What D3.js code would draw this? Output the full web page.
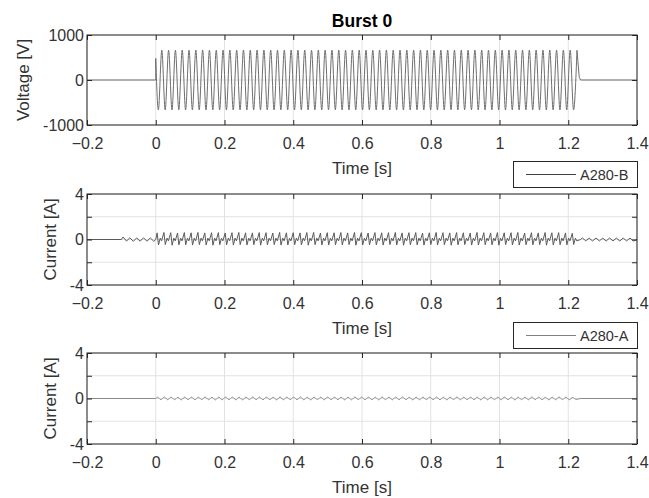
<!DOCTYPE html>
<html>
<head>
<meta charset="utf-8">
<script src="https://cdn.jsdelivr.net/npm/d3@7"></script>
<style>
  html, body { margin: 0; padding: 0; background: #fff; }
  svg { display: block; font-family: "Liberation Sans", Arial, sans-serif; }
</style>
</head>
<body>
<svg id="chart" width="649" height="498"></svg>
<script>
// ---------------- data ----------------
const xTicks = [-0.2, 0, 0.2, 0.4, 0.6, 0.8, 1, 1.2, 1.4];
const xDomain = [-0.2, 1.4];
const voltTicks = [-1000, 0, 1000];
const voltTickLabels = ["-1000", "0", "1000"];
const currTicks = [-4, -2, 0, 2, 4];
const currTickLabels = ["-4", "", "0", "", "4"];
const titleText = "Burst 0";
const seriesNames = ["A280-B", "A280-A"];

// burst timing (s)
const burstStart = 0;
const burstEnd = 1.236;
const cyclePeriod = 0.0198;
const voltOnset = 480;          // value right after switching on at t = 0
const voltFirstTrough = 0.0076;  // time of first trough
const voltFirstPeak = 0.0176;    // time of first peak
const voltOffLevel = 60;         // small step left when switching off

// voltage extremes per cycle (V)
const voltPeaks = [
  662,665,664,666,663,665,667,664,662,665,
  666,664,665,663,666,665,664,662,665,667,
  664,665,663,666,665,664,665,662,666,665,
  664,663,665,667,664,665,666,663,665,664,
  662,665,666,664,665,663,667,665,664,662,
  665,666,664,665,663,665,664,666,662,665,
  664,660];
const voltTroughs = [
  -664,-666,-665,-663,-667,-665,-664,-666,-665,-663,
  -665,-667,-664,-666,-665,-663,-665,-666,-664,-665,
  -667,-663,-665,-664,-666,-665,-663,-667,-665,-664,
  -666,-665,-663,-665,-667,-664,-665,-666,-663,-665,
  -664,-666,-665,-663,-667,-665,-664,-666,-665,-663,
  -665,-667,-664,-666,-665,-663,-665,-666,-664,-665,
  -666,-664];

// current A280-B: pre-burst ripple (-0.1 .. 0 s)
const curBPreStart = -0.1;
const curBPreHigh = [0.22, 0.15, 0.14, 0.15, 0.14];
const curBPreLow = [-0.14, -0.16, -0.15, -0.15, -0.16];
// current A280-B: burst spikes per cycle (A)
const curBPeaks = [
  0.58,0.62,0.60,0.57,0.61,0.59,0.62,0.58,0.60,0.61,
  0.57,0.60,0.62,0.59,0.58,0.61,0.60,0.57,0.62,0.59,
  0.60,0.58,0.61,0.62,0.57,0.60,0.59,0.61,0.58,0.62,
  0.60,0.57,0.61,0.59,0.60,0.62,0.58,0.60,0.61,0.57,
  0.59,0.62,0.60,0.58,0.61,0.59,0.57,0.62,0.60,0.58,
  0.61,0.59,0.60,0.62,0.57,0.60,0.58,0.61,0.59,0.60,
  0.58,0.55];
const curBTroughs = [
  -0.48,-0.45,-0.50,-0.47,-0.46,-0.49,-0.45,-0.48,-0.50,-0.46,
  -0.47,-0.49,-0.45,-0.48,-0.46,-0.50,-0.47,-0.45,-0.49,-0.48,
  -0.46,-0.47,-0.50,-0.45,-0.48,-0.49,-0.46,-0.47,-0.45,-0.50,
  -0.48,-0.46,-0.47,-0.49,-0.45,-0.48,-0.50,-0.46,-0.47,-0.49,
  -0.45,-0.48,-0.46,-0.50,-0.47,-0.45,-0.49,-0.48,-0.46,-0.47,
  -0.50,-0.45,-0.48,-0.49,-0.46,-0.47,-0.45,-0.50,-0.48,-0.46,
  -0.47,-0.44];
const curBMidHigh = 0.12;
const curBMidLow = -0.12;
// current A280-B: post-burst ripple (1.236 .. 1.4 s)
const curBPostHigh = [0.14, 0.12, 0.13, 0.12, 0.13, 0.12, 0.13, 0.12];
const curBPostLow = [-0.12, -0.13, -0.12, -0.13, -0.12, -0.13, -0.12, -0.13];

// current A280-A: small ripple during burst (A)
const curAPeaks = [
  0.12,0.13,0.12,0.11,0.13,0.12,0.12,0.13,0.11,0.12,
  0.13,0.12,0.11,0.12,0.13,0.12,0.12,0.11,0.13,0.12,
  0.12,0.13,0.11,0.12,0.12,0.13,0.12,0.11,0.12,0.13,
  0.12,0.12,0.11,0.13,0.12,0.12,0.13,0.11,0.12,0.12,
  0.13,0.12,0.11,0.12,0.13,0.12,0.12,0.11,0.13,0.12,
  0.12,0.13,0.11,0.12,0.12,0.13,0.12,0.11,0.12,0.13,
  0.12,0.10];
const curATroughs = [
  -0.10,-0.11,-0.10,-0.12,-0.10,-0.11,-0.10,-0.10,-0.12,-0.11,
  -0.10,-0.11,-0.12,-0.10,-0.10,-0.11,-0.10,-0.12,-0.11,-0.10,
  -0.10,-0.11,-0.12,-0.10,-0.11,-0.10,-0.10,-0.12,-0.11,-0.10,
  -0.11,-0.10,-0.12,-0.10,-0.11,-0.10,-0.10,-0.12,-0.11,-0.10,
  -0.10,-0.11,-0.12,-0.10,-0.11,-0.10,-0.10,-0.12,-0.11,-0.10,
  -0.11,-0.10,-0.12,-0.10,-0.11,-0.10,-0.10,-0.12,-0.11,-0.10,
  -0.11,-0.08];

// ---------------- build point lists ----------------
const voltPre = [[xDomain[0], 0], [burstStart, 0], [burstStart, voltOnset]];
const voltBurst = [[burstStart, voltOnset]];
voltPeaks.forEach((p, i) => {
  voltBurst.push([voltFirstTrough + i * cyclePeriod, voltTroughs[i]]);
  voltBurst.push([voltFirstPeak + i * cyclePeriod, p]);
});
const lastPeak = voltBurst[voltBurst.length - 1];
const voltPost = [lastPeak, [burstEnd - 0.004, voltOffLevel], [burstEnd, 0], [xDomain[1], 0]];

const curB = [[xDomain[0], 0], [curBPreStart, 0]];
curBPreHigh.forEach((h, i) => {
  const t0 = curBPreStart + i * cyclePeriod;
  curB.push([t0 + 0.005, h]);
  curB.push([t0 + 0.015, curBPreLow[i]]);
});
curB.push([burstStart, 0]);
curBPeaks.forEach((p, i) => {
  const t0 = burstStart + i * cyclePeriod;
  curB.push([t0 + 0.004, p]);
  curB.push([t0 + 0.008, curBTroughs[i]]);
  curB.push([t0 + 0.013, curBMidHigh]);
  curB.push([t0 + 0.017, curBMidLow]);
});
curB.push([burstEnd, 0]);
curBPostHigh.forEach((h, i) => {
  const t0 = burstEnd + i * cyclePeriod;
  curB.push([t0 + 0.005, h]);
  curB.push([t0 + 0.015, curBPostLow[i]]);
});
curB.push([xDomain[1], 0]);

const curA = [[xDomain[0], 0], [burstStart, 0]];
curAPeaks.forEach((p, i) => {
  const t0 = burstStart + i * cyclePeriod;
  curA.push([t0 + 0.005, p]);
  curA.push([t0 + 0.015, curATroughs[i]]);
});
curA.push([burstEnd, 0], [xDomain[1], 0]);

// ---------------- drawing ----------------
const svg = d3.select("#chart");
const axisColor = "#262626";
const textColor = "#333333";
const gridColor = "#e2e2e2";
const left = 87, right = 637;
const x = d3.scaleLinear().domain(xDomain).range([left, right]);

const panels = [
  { top: 35, bottom: 125, domain: [-1000, 1000], ticks: voltTicks, labels: voltTickLabels,
    ylabel: "Voltage [V]", ylabelX: 29, series: [
      { pts: voltPre, curve: d3.curveLinear, color: "#6e6e6e" },
      { pts: voltBurst, curve: d3.curveMonotoneX, color: "#6e6e6e" },
      { pts: voltPost, curve: d3.curveLinear, color: "#6e6e6e" }] },
  { top: 194, bottom: 285, domain: [-4, 4], ticks: currTicks, labels: currTickLabels,
    ylabel: "Current [A]", ylabelX: 56, series: [
      { pts: curB, curve: d3.curveLinear, color: "#5a5a5a" }] },
  { top: 353, bottom: 444, domain: [-4, 4], ticks: currTicks, labels: currTickLabels,
    ylabel: "Current [A]", ylabelX: 56, series: [
      { pts: curA, curve: d3.curveMonotoneX, color: "#8a8a8a" }] }
];

panels.forEach(p => {
  const y = d3.scaleLinear().domain(p.domain).range([p.bottom, p.top]);
  const g = svg.append("g");

  // grid
  g.append("g").selectAll("line").data(xTicks).join("line")
    .attr("x1", d => x(d)).attr("x2", d => x(d))
    .attr("y1", p.top).attr("y2", p.bottom)
    .attr("stroke", gridColor).attr("stroke-width", 1);
  g.append("g").selectAll("line").data(p.ticks).join("line")
    .attr("x1", left).attr("x2", right)
    .attr("y1", d => y(d)).attr("y2", d => y(d))
    .attr("stroke", gridColor).attr("stroke-width", 1);

  // data
  p.series.forEach(s => {
    const line = d3.line().x(d => x(d[0])).y(d => y(d[1])).curve(s.curve);
    g.append("path").attr("d", line(s.pts))
      .attr("fill", "none").attr("stroke", s.color).attr("stroke-width", 1)
      .attr("stroke-linejoin", "round");
  });

  // axes (ticks inward)
  const bottom = d3.axisBottom(x).tickValues(xTicks).tickSize(-5).tickPadding(13)
    .tickFormat(d3.format("~g"));
  const gb = g.append("g").attr("transform", `translate(0,${p.bottom})`).call(bottom);
  const top = d3.axisTop(x).tickValues(xTicks).tickSize(-5).tickFormat("");
  const gt = g.append("g").attr("transform", `translate(0,${p.top})`).call(top);
  const leftAx = d3.axisLeft(y).tickValues(p.ticks).tickSize(-5).tickPadding(3)
    .tickFormat((d, i) => p.labels[i]);
  const gl = g.append("g").attr("transform", `translate(${left},0)`).call(leftAx);
  const rightAx = d3.axisRight(y).tickValues(p.ticks).tickSize(-5).tickFormat("");
  const gr = g.append("g").attr("transform", `translate(${right},0)`).call(rightAx);
  [gb, gt, gl, gr].forEach(a => {
    a.select(".domain").remove();
    a.selectAll(".tick line").attr("stroke", axisColor);
    a.selectAll(".tick text").attr("fill", textColor)
      .style("font-size", "16px").style("font-family", '"Liberation Sans", Arial, sans-serif');
  });

  // box
  g.append("rect").attr("x", left).attr("y", p.top)
    .attr("width", right - left).attr("height", p.bottom - p.top)
    .attr("fill", "none").attr("stroke", axisColor).attr("stroke-width", 1);

  // x label
  g.append("text").attr("x", (left + right) / 2).attr("y", p.bottom + 49)
    .attr("text-anchor", "middle").attr("fill", textColor)
    .style("font-size", "17px").text("Time [s]");
  // y label
  g.append("text")
    .attr("transform", `translate(${p.ylabelX},${(p.top + p.bottom) / 2}) rotate(-90)`)
    .attr("text-anchor", "middle").attr("fill", textColor)
    .style("font-size", "17px").text(p.ylabel);
});

// title
svg.append("text").attr("x", (left + right) / 2).attr("y", 27)
  .attr("text-anchor", "middle").attr("fill", "#000")
  .style("font-size", "17.5px").style("font-weight", "bold").text(titleText);

// legends
const legends = [
  { name: seriesNames[0], top: 161, color: "#404040" },
  { name: seriesNames[1], top: 322, color: "#808080" }
];
legends.forEach(l => {
  const g = svg.append("g");
  g.append("rect").attr("x", 513.5).attr("y", l.top + 0.5).attr("width", 124).attr("height", 26)
    .attr("fill", "#fff").attr("stroke", axisColor).attr("stroke-width", 1);
  g.append("line").attr("x1", 526).attr("x2", 576)
    .attr("y1", l.top + 13.5).attr("y2", l.top + 13.5)
    .attr("stroke", l.color).attr("stroke-width", 1);
  g.append("text").attr("x", 580).attr("y", l.top + 19)
    .attr("fill", textColor).style("font-size", "14.5px").text(l.name);
});
</script>
</body>
</html>
